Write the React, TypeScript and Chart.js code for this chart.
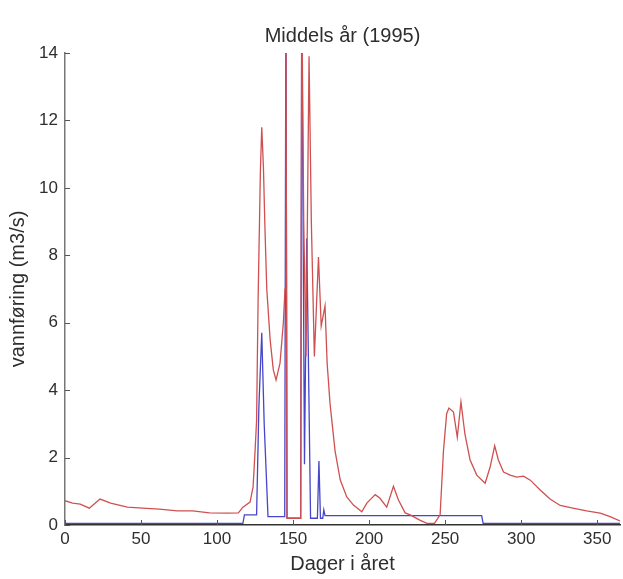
import React, { useEffect, useRef } from "react";
import { Chart, registerables } from "chart.js";

Chart.register(...registerables);

const chartTitle = "Middels år (1995)";
const xLabel = "Dager i året";
const yLabel = "vannføring (m3/s)";
const xTicks = [0, 50, 100, 150, 200, 250, 300, 350];
const yTicks = [0, 2, 4, 6, 8, 10, 12, 14];

const redDays = [
  0, 5, 10, 16, 23, 30, 41, 51, 62, 74, 84, 95, 107, 114, 117, 121.7, 123.7, 125, 126, 127,
  128.5, 129.4, 130.5, 131.5, 132.7, 134.9, 137, 138.8, 141.4, 143.6, 144.7, 145.3, 146, 155,
  155.7, 157, 158.5, 160.5, 162, 164, 166.7, 168.5, 171, 172.4, 174.3, 177.6, 181, 185.3, 189.7,
  195.2, 198.5, 204, 207, 211.6, 216, 219.3, 223.7, 227, 233, 238, 243, 246.7, 248.9, 251, 252.5,
  255.5, 258, 260.4, 263, 266.4, 270.8, 276.3, 279.6, 282.6, 285, 288.4, 292.8, 297, 301.5, 306,
  312.5, 319, 325.7, 334, 343, 352, 358.5, 365,
];
const redFlow = [
  0.72, 0.65, 0.62, 0.5, 0.77, 0.65, 0.53, 0.5, 0.47, 0.42, 0.42, 0.36, 0.35, 0.36, 0.53, 0.68,
  1.13, 2.2, 3.1, 6.7, 10.5, 11.8, 10.6, 8.8, 7.0, 5.5, 4.6, 4.3, 4.8, 6.0, 7.0, 16, 0.2, 0.2, 16,
  9, 5, 13.9, 9, 5.0, 7.95, 5.9, 6.5, 4.8, 3.6, 2.2, 1.34, 0.83, 0.59, 0.39, 0.65, 0.9, 0.8,
  0.53, 1.15, 0.74, 0.36, 0.3, 0.15, 0.05, 0.05, 0.3, 2.2, 3.3, 3.47, 3.35, 2.6, 3.65, 2.7, 1.93,
  1.48, 1.24, 1.72, 2.35, 1.93, 1.57, 1.48, 1.42, 1.45, 1.33, 1.04, 0.77, 0.58, 0.5, 0.42, 0.35,
  0.25, 0.12,
];

const blueDays = [
  0, 117, 118, 126, 127.5, 129.4, 131, 133.5, 144.5, 145.3, 146, 155, 155.7, 157.5, 159, 161.5,
  166, 167, 168, 169.5, 170.2, 171, 274, 275, 365,
];
const blueFlow = [
  0.05, 0.05, 0.3, 0.3, 3.5, 5.7, 3.0, 0.25, 0.25, 16, 0.2, 0.2, 16, 1.8, 8.5, 0.2, 0.2, 1.9, 0.2,
  0.2, 0.45, 0.28, 0.28, 0.05, 0.05,
];

const FONT = "'Liberation Sans', Arial, Helvetica, sans-serif";
const TEXT = "#2e2e2e";

const inwardTicks = {
  id: "inwardTicks",
  afterDraw(chart: any) {
    const { ctx, chartArea: a, scales } = chart;
    ctx.save();
    ctx.strokeStyle = "#555";
    ctx.lineWidth = 1;
    ctx.beginPath();
    xTicks.forEach((v) => {
      const p = Math.round(scales.x.getPixelForValue(v)) + 0.5;
      ctx.moveTo(p, a.bottom);
      ctx.lineTo(p, a.bottom - 5);
    });
    yTicks.forEach((v) => {
      const p = Math.round(scales.y.getPixelForValue(v)) + 0.5;
      ctx.moveTo(a.left, p);
      ctx.lineTo(a.left + 5, p);
    });
    ctx.stroke();
    ctx.restore();
  },
};

export default function App() {
  const ref = useRef<HTMLCanvasElement | null>(null);

  useEffect(() => {
    if (!ref.current) return;
    const red = redDays.map((d, i) => ({ x: d, y: redFlow[i] }));
    const blue = blueDays.map((d, i) => ({ x: d, y: blueFlow[i] }));
    const chart = new Chart(ref.current, {
      type: "line",
      data: {
        datasets: [
          {
            label: "red",
            data: red,
            borderColor: "rgb(208, 80, 80)",
            borderWidth: 1.3,
            pointRadius: 0,
            tension: 0,
            fill: false,
          },
          {
            label: "blue",
            data: blue,
            borderColor: "rgb(70, 70, 200)",
            borderWidth: 1.3,
            pointRadius: 0,
            tension: 0,
            fill: false,
          },
        ],
      },
      options: {
        animation: false,
        responsive: false,
        maintainAspectRatio: false,
        layout: { padding: { left: 0, right: 3, top: 0, bottom: 0 } },
        plugins: {
          legend: { display: false },
          tooltip: { enabled: false },
          title: {
            display: true,
            text: chartTitle,
            fullSize: false,
            color: TEXT,
            font: { family: FONT, size: 20, weight: "normal" },
            padding: { top: 24, bottom: 5 },
          },
        },
        scales: {
          x: {
            type: "linear",
            min: 0,
            max: 365,
            afterBuildTicks: (s: any) => {
              s.ticks = xTicks.map((v) => ({ value: v }));
            },
            afterFit: (s: any) => {
              s.height = 54;
            },
            grid: { display: false, drawTicks: false },
            border: { display: true, color: "#333", width: 1.5 },
            ticks: {
              color: TEXT,
              font: { family: FONT, size: 17 },
              padding: 4,
              autoSkip: false,
              maxRotation: 0,
            },
            title: {
              display: true,
              text: xLabel,
              color: TEXT,
              font: { family: FONT, size: 20 },
              padding: { top: 0, bottom: 3 },
            },
          },
          y: {
            type: "linear",
            min: 0,
            max: 14,
            afterBuildTicks: (s: any) => {
              s.ticks = yTicks.map((v) => ({ value: v }));
            },
            afterFit: (s: any) => {
              s.width = 65;
            },
            grid: { display: false, drawTicks: false },
            border: { display: true, color: "#777", width: 1.5 },
            ticks: {
              color: TEXT,
              font: { family: FONT, size: 17 },
              padding: 7,
            },
            title: {
              display: true,
              text: yLabel,
              color: TEXT,
              font: { family: FONT, size: 20 },
              padding: { top: 6, bottom: 0 },
            },
          },
        },
      },
      plugins: [inwardTicks],
    } as any);
    return () => chart.destroy();
  }, []);

  return (
    <div
      style={{
        position: "absolute",
        left: 0,
        top: 0,
        width: 623,
        height: 579,
        background: "#fff",
        overflow: "hidden",
      }}
    >
      <canvas ref={ref} width={623} height={579} style={{ width: 623, height: 579, display: "block" }} />
    </div>
  );
}
